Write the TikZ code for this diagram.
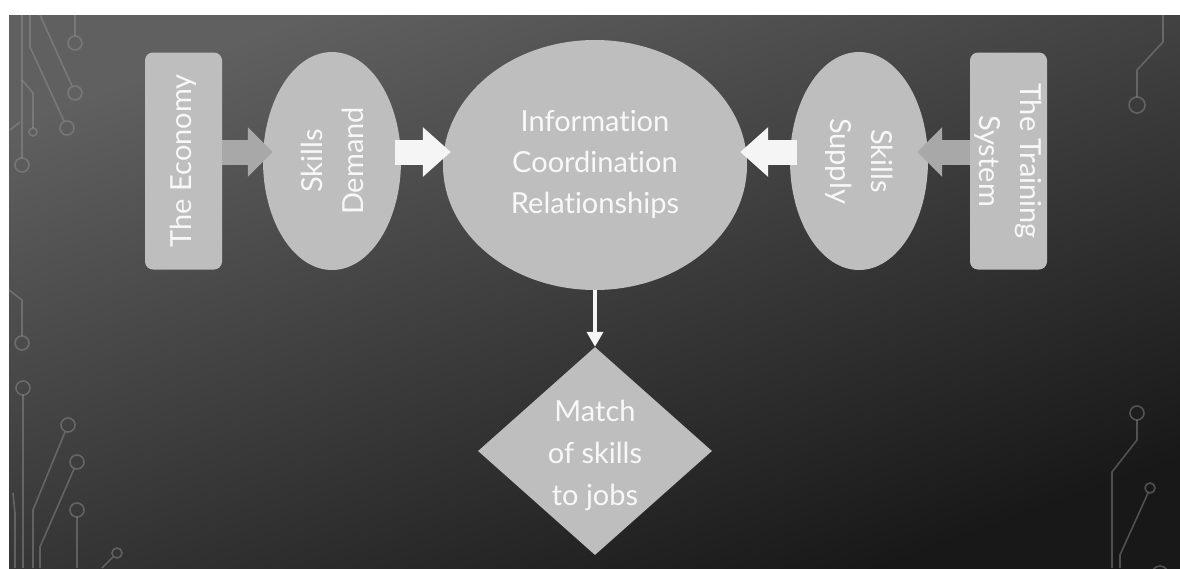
\documentclass[tikz,border=0pt]{standalone}
\usepackage{fontspec}
\setmainfont{Lato}[Ligatures={NoCommon}]
\usetikzlibrary{shapes.geometric,arrows.meta,calc}
\definecolor{shapefill}{RGB}{190,190,190}
\definecolor{arrowgray}{RGB}{168,168,168}
\definecolor{arrowwhite}{RGB}{245,245,245}
\definecolor{bgtop}{RGB}{96,96,96}
\definecolor{bgbot}{RGB}{24,24,24}
\definecolor{tracecol}{RGB}{150,150,150}
\definecolor{labelwhite}{RGB}{248,248,248}
\tikzset{
  box/.style={draw=none, fill=shapefill, rounded corners=8pt, minimum width=77pt, minimum height=217pt, inner sep=0pt},
  oval/.style={ellipse, draw=none, fill=shapefill, inner sep=0pt},
  gem/.style={diamond, draw=none, fill=shapefill, inner sep=0pt, minimum width=234pt, minimum height=208pt},
  label text/.style={text=labelwhite, align=center, font=\fontsize{29}{41}\selectfont},
  hub text/.style={text=labelwhite, align=center, font=\fontsize{29}{41}\selectfont},
  gray block/.style={draw=arrowgray, line width=25pt, -{Triangle[length=25pt,width=48pt]}},
  white block/.style={draw=arrowwhite, line width=25pt, -{Triangle[length=28pt,width=48pt]}},
  thin arrow/.style={draw=arrowwhite, line width=4pt, -{Triangle[length=15pt,width=16pt]}},
  trace/.style={draw=tracecol, opacity=0.45, line width=1.6pt},
}
\begin{document}
\begin{tikzpicture}[x=1pt,y=-1pt]
\useasboundingbox (0,0) rectangle (1180,568);
% page and dark slide background
\fill[white] (0,0) rectangle (1180,568);
\shade[top color=bgtop, bottom color=bgbot, shading angle=20] (9,15) rectangle (1180,568);

% circuit traces, top left
\draw[trace] (22,15) -- (22,158);
\draw[trace] (22,165) circle[radius=7];
\draw[trace] (30,15) -- (30,47) -- (64,121);
\draw[trace] (67,128) circle[radius=7];
\draw[trace] (40,15) -- (72,86);
\draw[trace] (75,93) circle[radius=7];
\draw[trace] (75,15) -- (75,36);
\draw[trace] (75,43) circle[radius=7];
\draw[trace] (22,80) -- (33,93) -- (33,128);
\draw[trace] (33,132) circle[radius=4];
\draw[trace] (10,130) -- (20,122);
% circuit traces, bottom left
\draw[trace] (9,290) -- (22,300) -- (22,336);
\draw[trace] (22,343) circle[radius=7];
\draw[trace] (23,388) circle[radius=7];
\draw[trace] (23,395) -- (23,568);
\draw[trace] (13,493) -- (15,513) -- (15,568);
\draw[trace] (68,425) circle[radius=7];
\draw[trace] (65,432) -- (33,510) -- (33,568);
\draw[trace] (77,462) circle[radius=7];
\draw[trace] (74,469) -- (40,547) -- (40,568);
\draw[trace] (77,510) circle[radius=7];
\draw[trace] (77,517) -- (77,568);
\draw[trace] (117,553) circle[radius=5];
\draw[trace] (113,557) -- (102,568);
% circuit traces, right side
\draw[trace] (1163,15) -- (1163,42) -- (1137,70) -- (1137,97);
\draw[trace] (1137,105) circle[radius=8];
\draw[trace] (1137,413) circle[radius=7];
\draw[trace] (1137,420) -- (1137,440) -- (1112,472) -- (1112,568);
\draw[trace] (1150,488) circle[radius=5];
\draw[trace] (1148,493) -- (1120,555) -- (1120,568);
\draw[trace] (1160,574) circle[radius=8];

% shapes
\node[box] (econ) at (183.5,161) {};
\node[label text, rotate=90] (econtext) at (econ) {The Economy};
\node[oval, minimum width=138pt, minimum height=218pt] (demand) at (332,161) {};
\node[label text, rotate=90] (demandtext) at (demand) {Skills\\Demand};
\node[oval, minimum width=304pt, minimum height=250pt] (hub) at (595,165) {};
\node[hub text] (hubtext) at (595,164) {Information\\Coordination\\Relationships};
\node[oval, minimum width=138pt, minimum height=218pt] (supply) at (859,161) {};
\node[label text, rotate=-90] (supplytext) at (supply) {Skills\\Supply};
\node[box] (training) at (1008.5,161) {};
\node[label text, rotate=-90] (trainingtext) at (training) {The Training\\System};
\node[gem] (match) at (595,451) {};
\node[label text, font=\fontsize{29}{42}\selectfont] (matchtext) at (595,455) {Match\\of skills\\to jobs};

% connectors
\coordinate (row) at (0,152);
\draw[gray block] (econ.east |- row) -- ($(demand.west |- row)+(10,0)$);
\draw[white block] ($(demand.east |- row)+(-6,0)$) -- ($(hub.west |- row)+(8,0)$);
\draw[white block] ($(supply.west |- row)+(7,0)$) -- ($(hub.east |- row)+(-7,0)$);
\draw[gray block] (training.west |- row) -- ($(supply.east |- row)+(-11,0)$);
\draw[thin arrow] (hub.south) -- (match.north);
\end{tikzpicture}
\end{document}
